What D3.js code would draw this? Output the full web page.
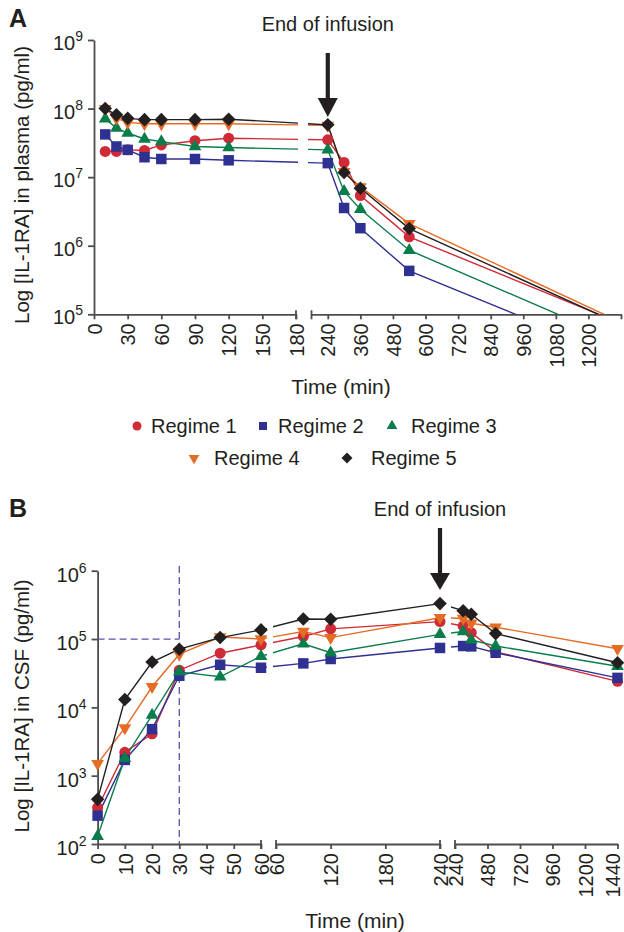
<!DOCTYPE html>
<html><head><meta charset="utf-8">
<script src="https://cdn.jsdelivr.net/npm/d3@7"></script>
<style>
body{margin:0;background:#fff;}
text{font-family:"Liberation Sans",Arial,Helvetica,sans-serif;fill:#231f20;}
</style></head>
<body>
<svg id="chart" width="624" height="932"></svg>
<script>
// ---------- DATA ----------
const regimes = ["Regime 1","Regime 2","Regime 3","Regime 4","Regime 5"];
const colors = ["#cf2a36","#2e3192","#0b7d4b","#e46c24","#231f20"];

// Panel A: plasma (pg/ml)
const timeA = [10,20,30,45,60,90,120,240,300,360,540,1440];
const plasma1 = [2.37e7,2.37e7,2.5e7,2.45e7,2.95e7,3.4e7,3.7e7,3.5e7,1.64e7,5.4e6,1.35e6,4.7e4];
const plasma2 = [4.2e7,2.8e7,2.5e7,1.95e7,1.84e7,1.84e7,1.76e7,1.6e7,3.55e6,1.8e6,4.3e5,1.5e4];
const plasma3 = [7.1e7,5.2e7,4.4e7,3.6e7,3.3e7,2.8e7,2.7e7,2.5e7,6.2e6,3.4e6,8.6e5,2.5e4];
const plasma4 = [1.0e8,7.2e7,6.3e7,6.0e7,6.0e7,6.0e7,6.0e7,5.7e7,1.2e7,7.2e6,2.1e6,4.6e4];
const plasma5 = [1.0e8,8.1e7,7.2e7,6.9e7,6.9e7,6.9e7,7.0e7,5.8e7,1.17e7,6.9e6,1.78e6,4.3e4];

// Panel B: CSF (pg/ml)
const timeB = [0,10,20,30,45,60,90,120,240,300,360,540,1440];
const csf1 = [340,2200,4100,3.5e4,6.2e4,8.2e4,1.09e5,1.41e5,1.8e5,1.55e5,1.24e5,6.5e4,2.4e4];
const csf2 = [260,1700,4800,2.9e4,4.2e4,3.8e4,4.4e4,5.1e4,7.4e4,7.9e4,7.8e4,6.3e4,2.7e4];
const csf3 = [130,1800,7700,3.3e4,2.8e4,5.6e4,8.5e4,6.3e4,1.17e5,1.29e5,9.7e4,7.9e4,4.0e4];
const csf4 = [1500,5000,2.0e4,6.0e4,1.07e5,1.0e5,1.29e5,1.05e5,2.05e5,2.0e5,1.7e5,1.49e5,7.2e4];
const csf5 = [450,1.3e4,4.6e4,7.1e4,1.05e5,1.36e5,1.96e5,1.95e5,3.3e5,2.6e5,2.3e5,1.2e5,4.5e4];

// Tick labels
const yTicksA = [1e5,1e6,1e7,1e8,1e9];
const yTicksB = [1e2,1e3,1e4,1e5,1e6];
const xTicksA1 = [0,30,60,90,120,150,180];
const xTicksA2 = [240,360,480,600,720,840,960,1080,1200,1320];
const xTicksB1 = [0,10,20,30,40,50,60];
const xTicksB2 = [60,120,180,240];
const xTicksB3 = [240,480,720,960,1200,1440];
const markerThreshold = 1e5; // dashed reference level in panel B
const markerTime = 30;       // dashed reference time in panel B
const endInfusion = 240;

// ---------- DRAW ----------
const svg = d3.select("#chart");
const symbols = [
  {type:d3.symbolCircle,size:95,rot:0},
  {type:d3.symbolSquare,size:110,rot:0},
  {type:d3.symbolTriangle,size:70,rot:0},
  {type:d3.symbolTriangle,size:70,rot:180},
  {type:d3.symbolSquare,size:92,rot:45}
];
const axisColor = "#4d4d4d";

function piecewise(segs){
  return v => {
    for(let i=0;i<segs.length;i++){
      if(v<=segs[i].scale.domain()[1] || i===segs.length-1) return segs[i].scale(v);
    }
  };
}

function supLabel(g, x, y, exp){
  const t = g.append("text").attr("x",x).attr("y",y).attr("text-anchor","end").style("font-size","20px");
  t.append("tspan").text("10");
  t.append("tspan").attr("dy",-9).style("font-size","14px").text(exp);
}

function drawPanel(cfg){
  const g = svg.append("g");
  const y = d3.scaleLog().domain(cfg.yDomain).range([cfg.yBottom,cfg.yTop]);
  const segs = cfg.segs.map(s=>({scale:d3.scaleLinear().domain(s.d).range(s.r), ticks:s.ticks, bars:s.bars, clip:s.clip, fmt:s.fmt}));
  const x = piecewise(segs);

  // clip paths
  segs.forEach((s,i)=>{
    svg.append("clipPath").attr("id",cfg.id+"c"+i).append("rect")
      .attr("x",s.clip[0]).attr("y",cfg.yTop-20).attr("width",s.clip[1]-s.clip[0]).attr("height",cfg.yBottom-cfg.yTop+20);
  });

  // y axis
  const ya = g.append("g").attr("transform",`translate(${cfg.x0},0)`)
    .call(d3.axisLeft(y).tickValues(cfg.yTicks).tickFormat("").tickSize(6).tickSizeOuter(0));
  ya.select(".domain").attr("stroke",axisColor).attr("stroke-width",1.8);
  ya.selectAll(".tick line").attr("stroke",axisColor).attr("stroke-width",1.8);
  cfg.yTicks.forEach(v=>supLabel(g, cfg.x0-11, y(v)+cfg.labDy, Math.round(Math.log10(v))));

  // x axis segments
  segs.forEach(s=>{
    const xa = g.append("g").attr("transform",`translate(0,${cfg.yBottom})`)
      .call(d3.axisBottom(s.scale).tickValues(s.ticks).tickSize(5).tickSizeOuter(0).tickFormat(s.fmt || (d=>d)));
    xa.select(".domain").attr("stroke",axisColor).attr("stroke-width",1.8);
    xa.selectAll(".tick line").attr("stroke",axisColor).attr("stroke-width",1.8);
    xa.selectAll(".tick text").attr("transform","rotate(-90)").attr("text-anchor","end")
      .attr("x",-9).attr("y",0).attr("dy",d=>d===1440?"0.08em":"0.36em").style("font-size","20px").attr("fill","#231f20");
    (s.bars||[]).forEach(b=>{
      g.append("line").attr("x1",s.scale(b)).attr("x2",s.scale(b))
        .attr("y1",cfg.yBottom-4).attr("y2",cfg.yBottom+5).attr("stroke",axisColor).attr("stroke-width",1.8);
    });
  });

  if(cfg.extra) cfg.extra(g,x,y);

  // lines
  const line = d3.line().x(d=>x(d.t)).y(d=>y(d.v));
  cfg.series.forEach((vals,k)=>{
    const data = cfg.times.map((t,i)=>({t,v:vals[i]}));
    segs.forEach((s,i)=>{
      g.append("path").datum(data).attr("d",line).attr("fill","none")
        .attr("stroke",colors[k]).attr("stroke-width",1.4)
        .attr("clip-path",`url(#${cfg.id}c${i})`);
    });
  });
  // markers
  cfg.series.forEach((vals,k)=>{
    const sym = d3.symbol().type(symbols[k].type).size(symbols[k].size);
    cfg.times.forEach((t,i)=>{
      const px = x(t), py = y(vals[i]);
      if(py > cfg.yBottom+1 || px > cfg.xMax) return;
      g.append("path").attr("d",sym()).attr("fill",colors[k])
        .attr("transform",`translate(${px},${py}) rotate(${symbols[k].rot})`);
    });
  });

  // arrow + label
  const ax = x(endInfusion);
  g.append("text").attr("x",ax).attr("y",cfg.arrow.textY).attr("text-anchor","middle").style("font-size","20px").text("End of infusion");
  g.append("line").attr("x1",ax).attr("x2",ax).attr("y1",cfg.arrow.top).attr("y2",cfg.arrow.headTop+1)
    .attr("stroke","#231f20").attr("stroke-width",4.2);
  g.append("path").attr("d",`M${ax-10},${cfg.arrow.headTop}L${ax+10},${cfg.arrow.headTop}L${ax},${cfg.arrow.tip}Z`).attr("fill","#231f20");

  // titles
  g.append("text").attr("transform",`translate(${cfg.ytX},${cfg.ytY}) rotate(-90)`).attr("text-anchor","middle")
    .style("font-size","20.5px").text(cfg.yTitle);
  g.append("text").attr("x",cfg.xtX).attr("y",cfg.xtY).attr("text-anchor","middle").style("font-size","21px").text("Time (min)");
  g.append("text").attr("x",cfg.letterX).attr("y",cfg.letterY).style("font-size","25px").style("font-weight","bold").text(cfg.letter);
}

drawPanel({
  id:"A", letter:"A", letterX:9, letterY:27,
  yDomain:[1e5,1e9], yTop:40, yBottom:314.3, x0:94, yTicks:yTicksA, labDy:10,
  segs:[
    {d:[0,180], r:[94,296], ticks:xTicksA1, bars:[180], clip:[90,298]},
    {d:[180,1320], r:[311.5,621], ticks:xTicksA2, bars:[180], clip:[308,621], fmt:d=>d===1320?"":d}
  ],
  xMax:621,
  times:timeA, series:[plasma1,plasma2,plasma3,plasma4,plasma5],
  arrow:{textY:31, top:53, headTop:98, tip:117},
  yTitle:"Log [IL-1RA] in plasma (pg/ml)", ytX:29, ytY:185,
  xtX:341, xtY:394
});

drawPanel({
  id:"B", letter:"B", letterX:9, letterY:517,
  yDomain:[1e2,1e6], yTop:570.7, yBottom:844, x0:97.6, yTicks:yTicksB, labDy:11,
  segs:[
    {d:[0,60], r:[97.6,261], ticks:xTicksB1, bars:[60], clip:[90,267]},
    {d:[60,240], r:[276,440], ticks:xTicksB2, bars:[60,240], clip:[273,444]},
    {d:[240,1440], r:[455,617.5], ticks:xTicksB3, bars:[240], clip:[451,630]}
  ],
  xMax:630,
  times:timeB, series:[csf1,csf2,csf3,csf4,csf5],
  arrow:{textY:516, top:528, headTop:573, tip:590},
  yTitle:"Log [IL-1RA] in CSF (pg/ml)", ytX:29, ytY:706,
  xtX:355, xtY:928,
  extra:(g,x,y)=>{
    const dc = "#5c50a8";
    g.append("line").attr("x1",97.6).attr("x2",x(markerTime)).attr("y1",y(markerThreshold)).attr("y2",y(markerThreshold))
      .attr("stroke",dc).attr("stroke-width",1.3).attr("stroke-dasharray","7,4");
    g.append("line").attr("x1",x(markerTime)).attr("x2",x(markerTime)).attr("y1",566).attr("y2",844)
      .attr("stroke",dc).attr("stroke-width",1.3).attr("stroke-dasharray","7,4");
  }
});

// legend
const legend = svg.append("g");
const legItems = [
  {k:0,mx:137,tx:151,y:426},
  {k:1,mx:263,tx:278,y:426},
  {k:2,mx:392,tx:411,y:426},
  {k:3,mx:194,tx:214,y:458},
  {k:4,mx:347,tx:371,y:458}
];
const legSizes = [64,64,50,50,60];
legItems.forEach(it=>{
  const sym = d3.symbol().type(symbols[it.k].type).size(legSizes[it.k]);
  legend.append("path").attr("d",sym()).attr("fill",colors[it.k])
    .attr("transform",`translate(${it.mx},${it.y}) rotate(${symbols[it.k].rot})`);
  legend.append("text").attr("x",it.tx).attr("y",it.y+7).style("font-size","20px").text(regimes[it.k]);
});
</script>
</body></html>
